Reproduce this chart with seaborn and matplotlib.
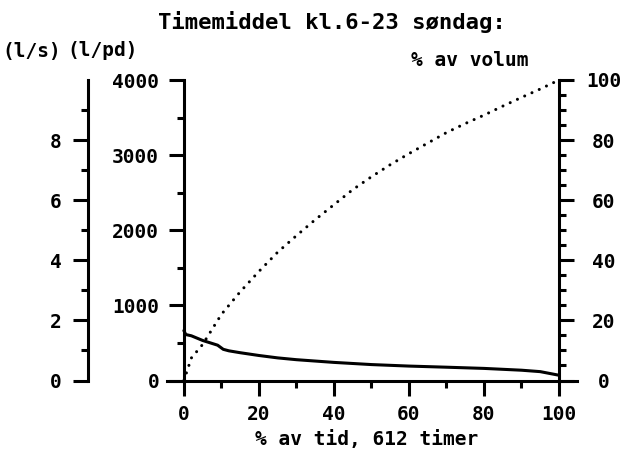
import matplotlib
matplotlib.use("Agg")
import matplotlib.pyplot as plt
import seaborn as sns

# ---- data ----
time_pct = [0, 0.5, 2, 5, 9, 10.5, 12, 15, 20, 25, 30, 40, 50, 60, 70, 80, 90, 95, 100]
flow_lpd = [665, 612, 595, 533, 470, 415, 395, 370, 333, 301, 277, 241, 212, 192, 177, 161, 137, 118, 70]

vol_time = [0, 2, 5, 10, 15, 20, 25, 30, 35, 40, 45, 50, 55, 60, 65, 70, 75, 80, 85, 90, 95, 100]
vol_pct = [0, 7.5, 12, 22, 29.5, 36.3, 42.7, 48.2, 53.5, 58.5, 63.5, 67.8, 71.8, 75.5, 79, 82.5,
           85.5, 88.3, 91.3, 94.2, 97, 100]

x_ticks = [0, 20, 40, 60, 80, 100]
x_minor = [10, 30, 50, 70, 90]
lpd_ticks = [0, 1000, 2000, 3000, 4000]
lpd_minor = [500, 1500, 2500, 3500]
ls_ticks = [0, 2, 4, 6, 8]
ls_minor = [1, 3, 5, 7, 9]
vol_ticks = [0, 20, 40, 60, 80, 100]
vol_minor = [5, 10, 15, 25, 30, 35, 45, 50, 55, 65, 70, 75, 85, 90, 95]

title = "Timemiddel kl.6-23 søndag:"
xlabel = "% av tid, 612 timer"

sns.set_style("ticks")
plt.rcParams['font.family'] = ['DejaVu Sans Mono', 'DejaVu Sans']
plt.rcParams['font.weight'] = 'bold'
plt.rcParams['text.color'] = 'black'

W, H = 631, 454
fig = plt.figure(figsize=(W / 100, H / 100), dpi=100)
ax = fig.add_axes([167 / W, 1 - 380.5 / H, 410 / W, 300.5 / H])

LW = 2.2
MAJ, MIN = 10.8, 5.0
FS = 14

# main l/pd curve
ax.set_xlim(-4.5, 104.8)
ax.set_ylim(0, 4000)
sns.lineplot(x=time_pct, y=flow_lpd, ax=ax, color='black', lw=LW)
ax.set_xlabel('')
ax.set_ylabel('')
ax.spines['top'].set_visible(False)
ax.spines['right'].set_visible(False)
ax.spines['left'].set_position(('data', 0))
for s in ax.spines.values():
    s.set_linewidth(LW)
    s.set_color('black')
ax.set_xticks(x_ticks)
ax.set_xticklabels([str(v) for v in x_ticks])
ax.set_xticks(x_minor, minor=True)
ax.set_yticks(lpd_ticks)
ax.set_yticklabels([str(v) for v in lpd_ticks])
ax.set_yticks(lpd_minor, minor=True)
ax.tick_params(which='major', direction='out', length=MAJ, width=LW, labelsize=FS,
               pad=7, color='black', labelcolor='black')
ax.tick_params(which='minor', direction='out', length=MIN, width=LW, color='black')

# % av volum axis
ax2 = ax.twinx()
ax2.set_ylim(0, 100)
sns.lineplot(x=vol_time, y=vol_pct, ax=ax2, color='black', lw=LW,
             linestyle=(0, (0.01, 2.6)), dash_capstyle='round')
ax2.set_ylabel('')
for k in ['left', 'top', 'bottom']:
    ax2.spines[k].set_visible(False)
ax2.spines['right'].set_position(('data', 100))
ax2.spines['right'].set_linewidth(LW)
ax2.spines['right'].set_color('black')
ax2.set_yticks(vol_ticks)
ax2.set_yticklabels([str(v) for v in vol_ticks])
ax2.set_yticks(vol_minor, minor=True)
ax2.tick_params(which='major', direction='out', length=MAJ, width=LW, labelsize=FS,
                pad=21.6, color='black', labelcolor='black')
ax2.tick_params(which='minor', direction='out', length=MIN, width=LW, color='black')
plt.setp(ax2.get_yticklabels(), ha='center')

# l/s axis
ax3 = ax.twinx()
ax3.set_ylim(0, 10)
for k in ['right', 'top', 'bottom']:
    ax3.spines[k].set_visible(False)
ax3.spines['left'].set_visible(True)
ax3.spines['left'].set_position(('axes', -79 / 410))
ax3.spines['left'].set_linewidth(LW)
ax3.spines['left'].set_color('black')
ax3.yaxis.tick_left()
ax3.set_yticks(ls_ticks)
ax3.set_yticklabels([str(v) for v in ls_ticks])
ax3.set_yticks(ls_minor, minor=True)
ax3.tick_params(which='major', direction='out', length=MAJ, width=LW, labelsize=FS,
                pad=8, color='black', labelcolor='black')
ax3.tick_params(which='minor', direction='out', length=MIN, width=LW, color='black')

# texts
fig.text(332 / W, 1 - 22 / H, title, ha='center', va='center', fontsize=16,
         fontweight='bold', color='black')
fig.text(32 / W, 1 - 51 / H, "(l/s)", ha='center', va='center', fontsize=FS,
         fontweight='bold', color='black')
fig.text(103 / W, 1 - 51 / H, "(l/pd)", ha='center', va='center', fontsize=FS,
         fontweight='bold', color='black')
fig.text(470 / W, 1 - 61 / H, "% av volum", ha='center', va='center', fontsize=FS,
         fontweight='bold', color='black')
fig.text(367 / W, 1 - 439 / H, xlabel, ha='center', va='center', fontsize=FS,
         fontweight='bold', color='black')

fig.savefig('out.png', dpi=100)
